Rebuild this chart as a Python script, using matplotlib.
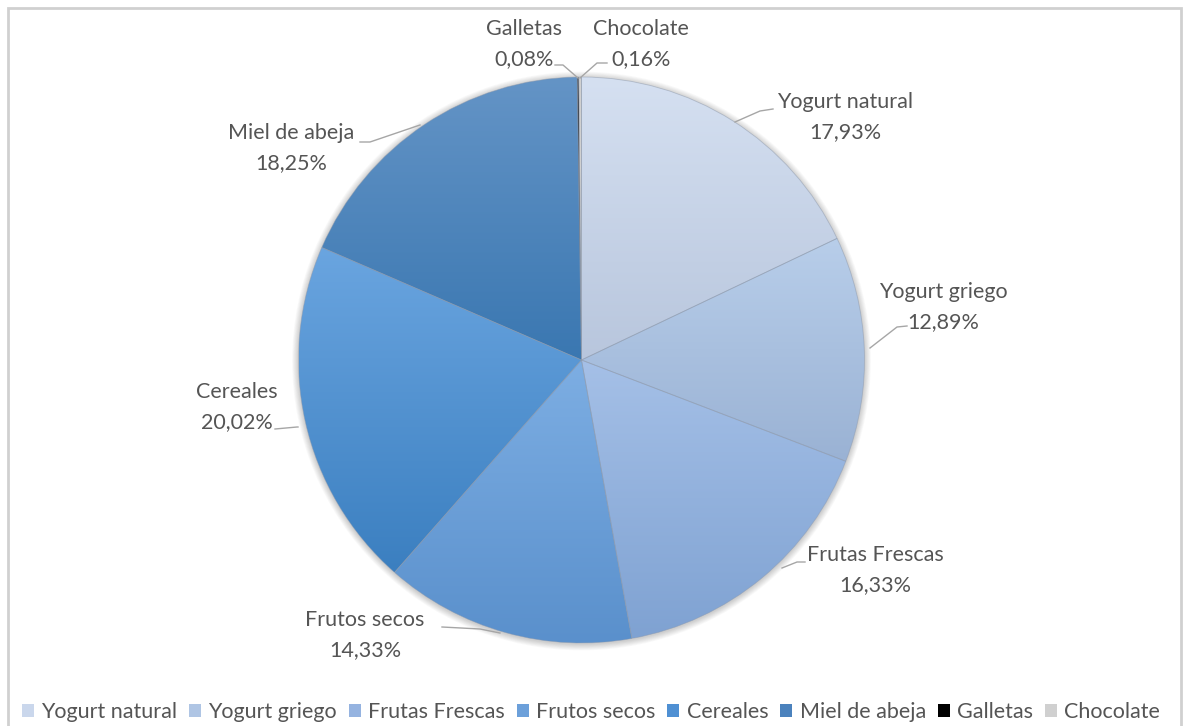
import numpy as np
import matplotlib
matplotlib.use("Agg")
import matplotlib.pyplot as plt
from matplotlib.colors import to_rgb
from matplotlib.patches import Patch, Circle, Rectangle

# Datos
categorias = ["Yogurt natural", "Yogurt griego", "Frutas Frescas", "Frutos secos",
              "Cereales", "Miel de abeja", "Galletas", "Chocolate"]
porcentajes = [17.93, 12.89, 16.33, 14.33, 20.02, 18.25, 0.08, 0.16]

# Colores (arriba, abajo) del degradado de cada porción
color_arriba = ["#D5E0F1", "#B8CEEA", "#A5C0E7", "#7DAEE3", "#6AA5E0", "#6494C6", "#000000", "#D0D0D0"]
color_abajo = ["#B8C6DD", "#9AB2D4", "#7FA2D2", "#5A90CC", "#3B7FC0", "#3A77B1", "#000000", "#D0D0D0"]
color_leyenda = ["#CAD7EC", "#AFC5E4", "#95B3E0", "#6CA0DA", "#4F90D3", "#4B82BD", "#000000", "#D0D0D0"]

W, H = 1184, 726
plt.rcParams['font.family'] = ['Lato', 'DejaVu Sans']
gris_texto = "#555555"
tam = 15.5

fig = plt.figure(figsize=(W / 100, H / 100), dpi=100)
ax = fig.add_axes([0, 0, 1, 1])


def px(x, y):
    # coordenadas en píxeles (origen arriba a la izquierda)
    return x, H - y


cx, cy = px(581.5, 360)
radio = 283

# sombra suave alrededor de la torta
for k in range(8, 0, -1):
    ax.add_patch(Circle((cx, cy - 1), radio + k * 0.8, color="black", alpha=0.025, lw=0, zorder=0))

wedges, _ = ax.pie(porcentajes, startangle=90, counterclock=False, center=(cx, cy), radius=radio,
                   colors=color_leyenda, wedgeprops=dict(edgecolor=(0.55, 0.6, 0.68, 0.5), linewidth=0.6))

# degradado vertical dentro de cada porción
for w, c1, c2 in zip(wedges, color_arriba, color_abajo):
    bb = w.get_path().get_extents()
    t = np.linspace(0, 1, 256)[:, None]
    grad = (1 - t) * np.array(to_rgb(c1)) + t * np.array(to_rgb(c2))
    grad = np.repeat(grad[:, None, :], 2, axis=1).reshape(256, 2, 3)
    im = ax.imshow(grad, extent=(bb.x0, bb.x1, bb.y0, bb.y1), origin="upper",
                   aspect="auto", interpolation="bilinear", zorder=1.5)
    im.set_clip_path(w)
    w.set_zorder(2)
    w.set_facecolor("none")

ax.set_xlim(0, W)
ax.set_ylim(0, H)
ax.set_aspect("equal")
ax.axis("off")

# etiquetas de datos (centro del bloque de texto)
pos_etiqueta = [(845, 117), (943, 307), (875, 570), (365, 635),
                (237, 407), (291, 148), (524, 44), (641, 44)]
lineas_guia = [
    [(735, 122), (760, 111), (773, 109)],
    [(870, 348), (897, 327), (907, 326)],
    [(782, 568), (797, 562), (805, 562)],
    [(500, 633), (480, 629), (442, 627)],
    [(298, 427), (297, 427), (275, 429)],
    [(420, 125), (370, 142), (360, 142)],
    [(578, 78), (563, 65), (555, 65)],
    [(580, 78), (597, 63), (607, 63)],
]

for cat, val, (lx, ly), guia in zip(categorias, porcentajes, pos_etiqueta, lineas_guia):
    texto = f"{cat}\n{val:.2f}%".replace(".", ",")
    x, y = px(lx, ly)
    ax.text(x, y, texto, ha="center", va="center", fontsize=tam, color=gris_texto,
            linespacing=1.6, zorder=5)
    gx = [p[0] for p in guia]
    gy = [H - p[1] for p in guia]
    ax.plot(gx, gy, color="#A6A6A6", lw=1, zorder=4)

# leyenda
handles = [Patch(facecolor=c, edgecolor="none") for c in color_leyenda]
fig.legend(handles, categorias, loc="center", bbox_to_anchor=(591 / W, 1 - 712 / H), ncol=8,
           frameon=False, fontsize=tam, labelcolor=gris_texto, handlelength=0.55, handleheight=0.55,
           handletextpad=0.35, columnspacing=0.55, borderaxespad=0)

# borde del gráfico
fig.patches.append(Rectangle((8 / W, -0.01), (1181 - 8) / W, (H - 8) / H + 0.01, transform=fig.transFigure,
                             fill=False, edgecolor="#D0D0D0", lw=2))

fig.savefig("out.png", dpi=100)
